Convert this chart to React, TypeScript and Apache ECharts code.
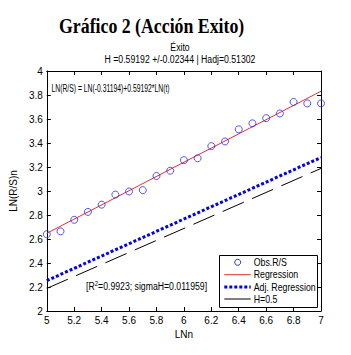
import React, { useEffect, useRef } from "react";
import * as echarts from "echarts";

const lnN = [5, 5.1, 5.2, 5.3, 5.4, 5.5, 5.6, 5.7, 5.8, 5.9, 6, 6.1, 6.2, 6.3, 6.4, 6.5, 6.6, 6.7, 6.8, 6.9, 7];
const lnRS = [2.64, 2.664, 2.76, 2.826, 2.886, 2.97, 2.996, 3.007, 3.125, 3.169, 3.257, 3.273, 3.374, 3.413, 3.514, 3.564, 3.607, 3.646, 3.742, 3.73, 3.73];
const intercept = -0.31194;
const hReg = 0.59192;
const hAdj = 0.51302;
const hHalf = 0.5;
const xRange = [5, 7];
const seriesNames = ["Obs.R/S", "Regression", "Adj. Regression", "H=0.5"];

const line = (slope: number) => xRange.map((x) => [x, intercept + slope * x]);

const BLUE = "#2b2bf0";
const RED = "#e03030";
const DBLUE = "#0000ee";

export default function App() {
  const ref = useRef<HTMLDivElement>(null);
  useEffect(() => {
    const chart = echarts.init(ref.current!, null, { renderer: "svg" });
    const font = "Liberation Sans, Arial, sans-serif";
    const axisCommon = {
      type: "value" as const,
      axisLine: { show: true, onZero: false, lineStyle: { color: "#000", width: 1 } },
      axisTick: { show: true, inside: true, length: 4, lineStyle: { color: "#000" } },
      splitLine: { show: false },
    };
    const lx = 219.5, ly = 255.5, lw = 98, lh = 52;
    const rowY = [262.3, 274.7, 287, 299];
    const legendGraphics: any[] = [
      { type: "rect", shape: { x: lx, y: ly, width: lw, height: lh }, style: { fill: "#fff", stroke: "#000", lineWidth: 1 }, z: 100 },
      { type: "circle", shape: { cx: 237.7, cy: rowY[0], r: 3 }, style: { fill: "none", stroke: BLUE, lineWidth: 1 }, z: 101 },
      { type: "line", shape: { x1: 224.3, y1: rowY[1], x2: 250.7, y2: rowY[1] }, style: { stroke: RED, lineWidth: 1 }, z: 101 },
      { type: "line", shape: { x1: 224.3, y1: rowY[2], x2: 250.7, y2: rowY[2] }, style: { stroke: DBLUE, lineWidth: 3, lineDash: [3, 2] }, z: 101 },
      { type: "line", shape: { x1: 224.3, y1: rowY[3], x2: 250.7, y2: rowY[3] }, style: { stroke: "#000", lineWidth: 1 }, z: 101 },
      ...seriesNames.map((n, i) => ({
        type: "text",
        x: 253.7,
        y: rowY[i],
        scaleX: 0.88,
        style: { text: n, font: `10px ${font}`, fill: "#000", verticalAlign: "middle" },
        z: 101,
      })),
    ];
    chart.setOption({
      animation: false,
      backgroundColor: "#fff",
      grid: { left: 37, right: 30, top: 71, bottom: 44 },
      xAxis: [
        {
          ...axisCommon,
          min: 5,
          max: 7,
          interval: 0.2,
          name: "LNn",
          nameLocation: "middle",
          nameGap: 18,
          nameTextStyle: { fontFamily: font, fontSize: 10, color: "#000" },
          axisLabel: { fontFamily: font, fontSize: 10, color: "#000", margin: 4 },
        },
        { ...axisCommon, min: 5, max: 7, interval: 0.2, position: "top", axisLabel: { show: false } },
      ],
      yAxis: [
        {
          ...axisCommon,
          min: 2,
          max: 4,
          interval: 0.2,
          name: "LN(R/S)n",
          nameLocation: "middle",
          nameGap: 20,
          nameTextStyle: { fontFamily: font, fontSize: 10, color: "#000" },
          axisLabel: { fontFamily: font, fontSize: 10, color: "#000", margin: 4 },
        },
        { ...axisCommon, min: 2, max: 4, interval: 0.2, position: "right", axisLabel: { show: false } },
      ],
      series: [
        {
          name: seriesNames[0],
          type: "scatter",
          data: lnN.map((x, i) => [x, lnRS[i]]),
          symbol: "circle",
          symbolSize: 7,
          itemStyle: { color: "rgba(0,0,0,0)", borderColor: BLUE, borderWidth: 1 },
          z: 5,
        },
        {
          name: seriesNames[1],
          type: "line",
          data: line(hReg),
          symbol: "none",
          lineStyle: { color: RED, width: 1 },
        },
        {
          name: seriesNames[2],
          type: "line",
          data: line(hAdj),
          symbol: "none",
          lineStyle: { color: DBLUE, width: 3, type: [3, 2] },
        },
        {
          name: seriesNames[3],
          type: "line",
          data: line(hHalf),
          symbol: "none",
          lineStyle: { color: "#000", width: 1, type: [23, 9] },
        },
      ],
      graphic: [
        {
          type: "text",
          x: 59,
          y: 16,
          scaleX: 0.89,
          style: { text: "Gráfico 2 (Acción Exito)", font: "bold 20px 'Liberation Serif', 'Times New Roman', serif", fill: "#000" },
        },
        {
          type: "text",
          x: 180,
          y: 48,
          scaleX: 0.87,
          style: { text: "Éxito", font: `10px ${font}`, fill: "#000", align: "center", verticalAlign: "middle" },
        },
        {
          type: "text",
          x: 180,
          y: 60,
          scaleX: 0.87,
          style: { text: "H =0.59192 +/-0.02344 | Hadj=0.51302", font: `10px ${font}`, fill: "#000", align: "center", verticalAlign: "middle" },
        },
        {
          type: "text",
          x: 51.5,
          y: 88,
          scaleX: 0.68,
          style: { text: "LN(R/S) = LN(-0.31194)+0.59192*LN(t)", font: `10px ${font}`, fill: "#000", verticalAlign: "middle" },
        },
        {
          type: "text",
          x: 86,
          y: 292,
          scaleX: 0.87,
          style: {
            text: "{a|[R}{s|2}{a|=0.9923; sigmaH=0.011959]}",
            verticalAlign: "bottom",
            rich: {
              a: { fontFamily: font, fontSize: 10, fill: "#000", color: "#000", verticalAlign: "bottom" },
              s: { fontFamily: font, fontSize: 7, fill: "#000", color: "#000", verticalAlign: "top", padding: [0, 0, 5, 0] },
            },
          },
        },
        ...legendGraphics,
      ],
    });
    return () => chart.dispose();
  }, []);
  return <div ref={ref} style={{ position: "fixed", left: 0, top: 0, width: 351, height: 355 }} />;
}
